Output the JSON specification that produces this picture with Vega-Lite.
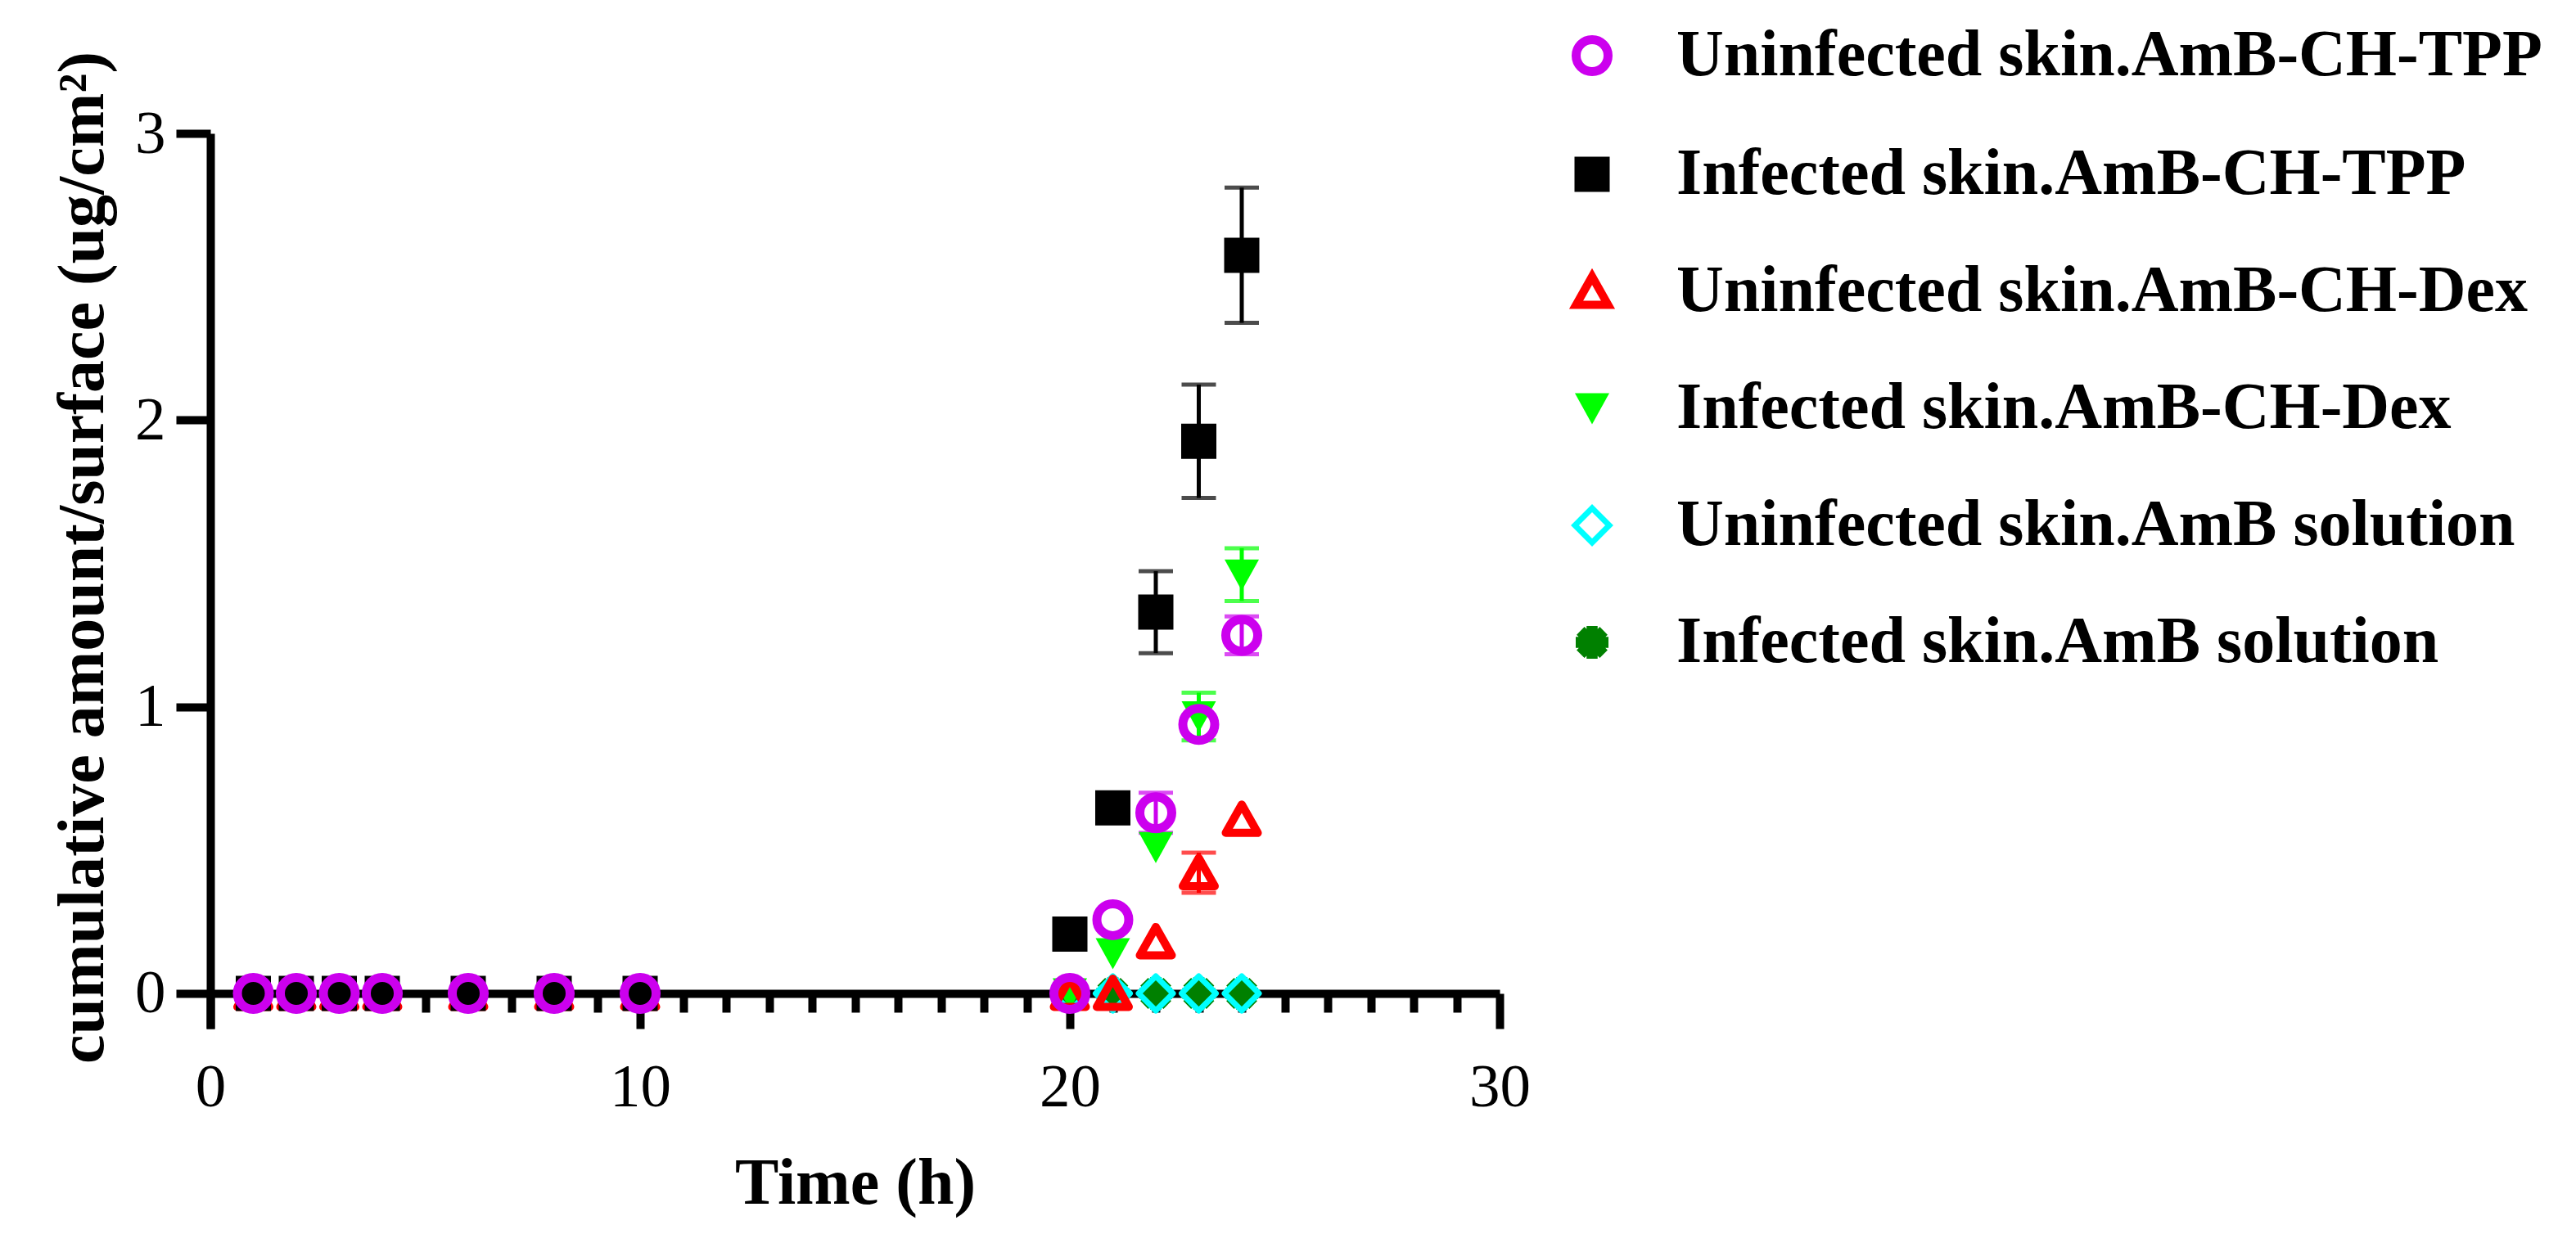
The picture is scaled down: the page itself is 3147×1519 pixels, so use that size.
{
  "$schema": "https://vega.github.io/schema/vega-lite/v6.json",
  "width": 1575,
  "height": 1094,
  "autosize": {"type": "none"},
  "padding": {"left": 257, "top": 163, "right": 1315, "bottom": 262},
  "config": {
    "view": {"stroke": null},
    "axis": {
      "grid": false,
      "domainColor": "black",
      "tickColor": "black",
      "labelColor": "black",
      "titleColor": "black",
      "labelFont": "Liberation Serif",
      "titleFont": "Liberation Serif",
      "labelFontSize": 75,
      "labelFontWeight": "normal",
      "titleFontSize": 80,
      "titleFontWeight": "bold",
      "domainWidth": 10,
      "tickWidth": 10
    },
    "legend": {
      "orient": "none",
      "legendX": 1648,
      "legendY": -135,
      "padding": 0,
      "symbolSize": 2500,
      "symbolOpacity": 1,
      "labelFont": "Liberation Serif",
      "labelFontSize": 80,
      "labelFontWeight": "bold",
      "labelColor": "black",
      "labelOffset": 63,
      "labelLimit": 2000,
      "rowPadding": 63
    }
  },
  "data": {
    "values": [
      {"series": "Infected skin.AmB solution", "t": 1, "y": 0, "err": 0},
      {"series": "Infected skin.AmB solution", "t": 2, "y": 0, "err": 0},
      {"series": "Infected skin.AmB solution", "t": 3, "y": 0, "err": 0},
      {"series": "Infected skin.AmB solution", "t": 4, "y": 0, "err": 0},
      {"series": "Infected skin.AmB solution", "t": 6, "y": 0, "err": 0},
      {"series": "Infected skin.AmB solution", "t": 8, "y": 0, "err": 0},
      {"series": "Infected skin.AmB solution", "t": 10, "y": 0, "err": 0},
      {"series": "Infected skin.AmB solution", "t": 20, "y": 0, "err": 0},
      {"series": "Infected skin.AmB solution", "t": 21, "y": 0, "err": 0},
      {"series": "Infected skin.AmB solution", "t": 22, "y": 0, "err": 0},
      {"series": "Infected skin.AmB solution", "t": 23, "y": 0, "err": 0},
      {"series": "Infected skin.AmB solution", "t": 24, "y": 0, "err": 0},
      {"series": "Uninfected skin.AmB solution", "t": 1, "y": 0, "err": 0},
      {"series": "Uninfected skin.AmB solution", "t": 2, "y": 0, "err": 0},
      {"series": "Uninfected skin.AmB solution", "t": 3, "y": 0, "err": 0},
      {"series": "Uninfected skin.AmB solution", "t": 4, "y": 0, "err": 0},
      {"series": "Uninfected skin.AmB solution", "t": 6, "y": 0, "err": 0},
      {"series": "Uninfected skin.AmB solution", "t": 8, "y": 0, "err": 0},
      {"series": "Uninfected skin.AmB solution", "t": 10, "y": 0, "err": 0},
      {"series": "Uninfected skin.AmB solution", "t": 20, "y": 0, "err": 0},
      {"series": "Uninfected skin.AmB solution", "t": 21, "y": 0, "err": 0},
      {"series": "Uninfected skin.AmB solution", "t": 22, "y": 0, "err": 0},
      {"series": "Uninfected skin.AmB solution", "t": 23, "y": 0, "err": 0},
      {"series": "Uninfected skin.AmB solution", "t": 24, "y": 0, "err": 0},
      {"series": "Infected skin.AmB-CH-Dex", "t": 1, "y": 0, "err": 0},
      {"series": "Infected skin.AmB-CH-Dex", "t": 2, "y": 0, "err": 0},
      {"series": "Infected skin.AmB-CH-Dex", "t": 3, "y": 0, "err": 0},
      {"series": "Infected skin.AmB-CH-Dex", "t": 4, "y": 0, "err": 0},
      {"series": "Infected skin.AmB-CH-Dex", "t": 6, "y": 0, "err": 0},
      {"series": "Infected skin.AmB-CH-Dex", "t": 8, "y": 0, "err": 0},
      {"series": "Infected skin.AmB-CH-Dex", "t": 10, "y": 0, "err": 0},
      {"series": "Infected skin.AmB-CH-Dex", "t": 20, "y": 0, "err": 0},
      {"series": "Infected skin.AmB-CH-Dex", "t": 21, "y": 0.14, "err": 0},
      {"series": "Infected skin.AmB-CH-Dex", "t": 22, "y": 0.51, "err": 0},
      {"series": "Infected skin.AmB-CH-Dex", "t": 23, "y": 0.966, "err": 0.083},
      {"series": "Infected skin.AmB-CH-Dex", "t": 24, "y": 1.461, "err": 0.092},
      {"series": "Uninfected skin.AmB-CH-Dex", "t": 1, "y": 0, "err": 0},
      {"series": "Uninfected skin.AmB-CH-Dex", "t": 2, "y": 0, "err": 0},
      {"series": "Uninfected skin.AmB-CH-Dex", "t": 3, "y": 0, "err": 0},
      {"series": "Uninfected skin.AmB-CH-Dex", "t": 4, "y": 0, "err": 0},
      {"series": "Uninfected skin.AmB-CH-Dex", "t": 6, "y": 0, "err": 0},
      {"series": "Uninfected skin.AmB-CH-Dex", "t": 8, "y": 0, "err": 0},
      {"series": "Uninfected skin.AmB-CH-Dex", "t": 10, "y": 0, "err": 0},
      {"series": "Uninfected skin.AmB-CH-Dex", "t": 20, "y": 0, "err": 0},
      {"series": "Uninfected skin.AmB-CH-Dex", "t": 21, "y": 0, "err": 0},
      {"series": "Uninfected skin.AmB-CH-Dex", "t": 22, "y": 0.18, "err": 0},
      {"series": "Uninfected skin.AmB-CH-Dex", "t": 23, "y": 0.421, "err": 0.07},
      {"series": "Uninfected skin.AmB-CH-Dex", "t": 24, "y": 0.607, "err": 0},
      {"series": "Infected skin.AmB-CH-TPP", "t": 1, "y": 0, "err": 0},
      {"series": "Infected skin.AmB-CH-TPP", "t": 2, "y": 0, "err": 0},
      {"series": "Infected skin.AmB-CH-TPP", "t": 3, "y": 0, "err": 0},
      {"series": "Infected skin.AmB-CH-TPP", "t": 4, "y": 0, "err": 0},
      {"series": "Infected skin.AmB-CH-TPP", "t": 6, "y": 0, "err": 0},
      {"series": "Infected skin.AmB-CH-TPP", "t": 8, "y": 0, "err": 0},
      {"series": "Infected skin.AmB-CH-TPP", "t": 10, "y": 0, "err": 0},
      {"series": "Infected skin.AmB-CH-TPP", "t": 20, "y": 0.207, "err": 0},
      {"series": "Infected skin.AmB-CH-TPP", "t": 21, "y": 0.647, "err": 0},
      {"series": "Infected skin.AmB-CH-TPP", "t": 22, "y": 1.33, "err": 0.143},
      {"series": "Infected skin.AmB-CH-TPP", "t": 23, "y": 1.926, "err": 0.198},
      {"series": "Infected skin.AmB-CH-TPP", "t": 24, "y": 2.575, "err": 0.236},
      {"series": "Uninfected skin.AmB-CH-TPP", "t": 1, "y": 0, "err": 0},
      {"series": "Uninfected skin.AmB-CH-TPP", "t": 2, "y": 0, "err": 0},
      {"series": "Uninfected skin.AmB-CH-TPP", "t": 3, "y": 0, "err": 0},
      {"series": "Uninfected skin.AmB-CH-TPP", "t": 4, "y": 0, "err": 0},
      {"series": "Uninfected skin.AmB-CH-TPP", "t": 6, "y": 0, "err": 0},
      {"series": "Uninfected skin.AmB-CH-TPP", "t": 8, "y": 0, "err": 0},
      {"series": "Uninfected skin.AmB-CH-TPP", "t": 10, "y": 0, "err": 0},
      {"series": "Uninfected skin.AmB-CH-TPP", "t": 20, "y": 0, "err": 0},
      {"series": "Uninfected skin.AmB-CH-TPP", "t": 21, "y": 0.257, "err": 0},
      {"series": "Uninfected skin.AmB-CH-TPP", "t": 22, "y": 0.63, "err": 0.07},
      {"series": "Uninfected skin.AmB-CH-TPP", "t": 23, "y": 0.938, "err": 0},
      {"series": "Uninfected skin.AmB-CH-TPP", "t": 24, "y": 1.249, "err": 0.066}
    ]
  },
  "encoding": {
    "x": {
      "field": "t",
      "type": "quantitative",
      "scale": {"domain": [0, 30], "nice": false, "zero": false},
      "axis": {
        "title": "Time (h)",
        "values": [0, 1, 2, 3, 4, 5, 6, 7, 8, 9, 10, 11, 12, 13, 14, 15, 16, 17, 18, 19, 20, 21, 22, 23, 24, 25, 26, 27, 28, 29, 30],
        "format": "d",
        "labelExpr": "datum.value % 10 === 0 ? datum.label : ''",
        "tickSize": {"condition": {"test": "datum.value % 10 === 0", "value": 43}, "value": 23},
        "offset": -43,
        "labelOverlap": false,
        "labelFlush": false,
        "labelPadding": 35,
        "labelBaseline": "top",
        "titleY": 256,
        "titleBaseline": "alphabetic"
      }
    },
    "y": {
      "field": "y",
      "type": "quantitative",
      "scale": {"domain": [-0.1228, 3], "nice": false, "zero": false},
      "axis": {
        "title": "cumulative amount/surface (ug/cm²)",
        "values": [0, 1, 2, 3],
        "tickSize": 42,
        "labelPadding": 13,
        "titleX": -132,
        "titleY": 518,
        "titleAlign": "center",
        "titleBaseline": "alphabetic",
        "titleAngle": -90
      }
    }
  },
  "layer": [
    {
      "transform": [{"filter": "datum.err > 0"}],
      "mark": {"type": "errorbar", "ticks": true, "size": 42, "thickness": 5},
      "encoding": {
        "yError": {"field": "err"},
        "color": {
          "field": "series",
          "type": "nominal",
          "legend": null,
          "scale": {
            "domain": ["Uninfected skin.AmB-CH-TPP", "Infected skin.AmB-CH-TPP", "Uninfected skin.AmB-CH-Dex", "Infected skin.AmB-CH-Dex"],
            "range": ["#CC00EE", "#000000", "#FF0000", "#00FF00"]
          }
        }
      }
    },
    {
      "mark": {"type": "point", "size": 2500, "opacity": 1, "strokeJoin": "round"},
      "encoding": {
        "fill": {
          "field": "series",
          "type": "nominal",
          "title": null,
          "scale": {
            "domain": ["Uninfected skin.AmB-CH-TPP", "Infected skin.AmB-CH-TPP", "Uninfected skin.AmB-CH-Dex", "Infected skin.AmB-CH-Dex", "Uninfected skin.AmB solution", "Infected skin.AmB solution"],
            "range": ["transparent", "#000000", "transparent", "#00FF00", "transparent", "#008000"]
          }
        },
        "stroke": {
          "field": "series",
          "type": "nominal",
          "title": null,
          "scale": {
            "domain": ["Uninfected skin.AmB-CH-TPP", "Infected skin.AmB-CH-TPP", "Uninfected skin.AmB-CH-Dex", "Infected skin.AmB-CH-Dex", "Uninfected skin.AmB solution", "Infected skin.AmB solution"],
            "range": ["#CC00EE", "transparent", "#FF0000", "transparent", "#00FFFF", "transparent"]
          }
        },
        "strokeWidth": {
          "field": "series",
          "type": "nominal",
          "title": null,
          "scale": {
            "type": "ordinal",
            "domain": ["Uninfected skin.AmB-CH-TPP", "Infected skin.AmB-CH-TPP", "Uninfected skin.AmB-CH-Dex", "Infected skin.AmB-CH-Dex", "Uninfected skin.AmB solution", "Infected skin.AmB solution"],
            "range": [11, 0, 10, 0, 7, 0]
          }
        },
        "shape": {
          "field": "series",
          "type": "nominal",
          "title": null,
          "scale": {
            "domain": ["Uninfected skin.AmB-CH-TPP", "Infected skin.AmB-CH-TPP", "Uninfected skin.AmB-CH-Dex", "Infected skin.AmB-CH-Dex", "Uninfected skin.AmB solution", "Infected skin.AmB solution"],
            "range": [
              "M-0.78,0A0.78,0.78 0 1,0 0.78,0A0.78,0.78 0 1,0 -0.78,0Z",
              "M-0.86,-0.86L0.86,-0.86L0.86,0.86L-0.86,0.86Z",
              "M0,-0.72L0.78,0.66L-0.78,0.66Z",
              "M-0.84,-0.74L0.84,-0.74L0,0.78Z",
              "M0,-0.84L0.84,0L0,0.84L-0.84,0Z",
              "M-0.8,-0.27L0.8,-0.27L0.8,0.27L-0.8,0.27Z M0.27,-0.8L0.27,0.8L-0.27,0.8L-0.27,-0.8Z M-0.375,-0.757L0.757,0.375L0.375,0.757L-0.757,-0.375Z M-0.757,0.375L0.375,-0.757L0.757,-0.375L-0.375,0.757Z M-0.6,0A0.6,0.6 0 1,1 0.6,0A0.6,0.6 0 1,1 -0.6,0Z"
            ]
          }
        }
      }
    }
  ]
}
